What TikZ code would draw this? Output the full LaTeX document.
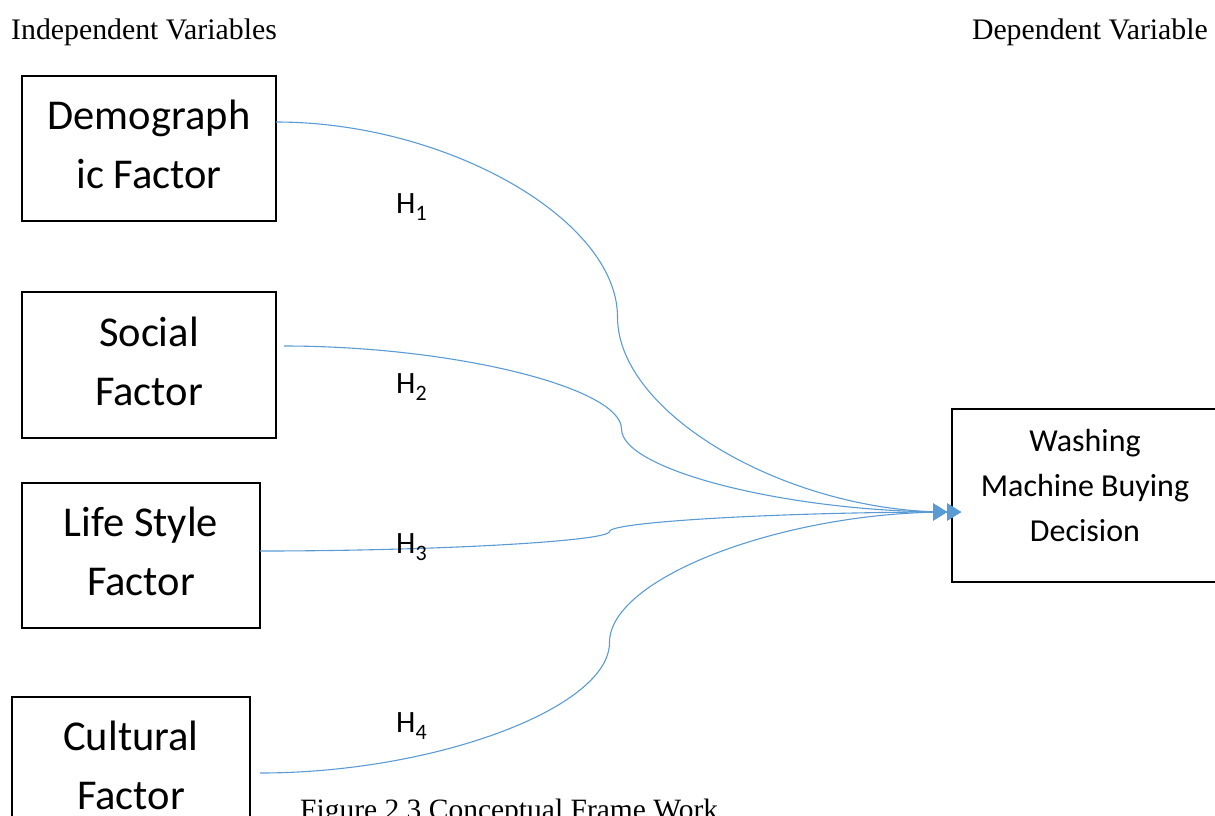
\documentclass[tikz,border=0pt]{standalone}
\usepackage{fontspec}
\setmainfont{Liberation Serif}
\newfontfamily\calib{Carlito}
\usetikzlibrary{arrows.meta}
\definecolor{lineblue}{HTML}{5B9BD5}
\tikzset{
  varbox/.style={draw=black, line width=1.6pt, rectangle, inner sep=0pt},
  boxtext/.style={align=center, font=\calib\fontsize{42.5}{59}\selectfont, inner sep=0pt},
  dvtext/.style={align=center, font=\calib\fontsize{32}{45}\selectfont, inner sep=0pt},
  hlabel/.style={font=\calib\fontsize{31}{36}\selectfont, anchor=base west, inner sep=0pt},
  headtext/.style={font=\fontsize{29.8}{34}\selectfont, anchor=base west, inner sep=0pt},
  captext/.style={font=\fontsize{29.5}{34}\selectfont, anchor=base west, inner sep=0pt},
  conn/.style={draw=lineblue, line width=1.1pt,
    -{Triangle[length=14pt,width=17pt,fill=lineblue]Triangle[length=14pt,width=17pt,fill=lineblue,sep=-6pt]}}
}
\begin{document}
\begin{tikzpicture}[x=1pt,y=-1pt]
\useasboundingbox (0,0) rectangle (1215,815);
% headings
\node[headtext] (indep) at (11,39) {Independent Variables};
\node[headtext, anchor=base east] (dep) at (1208,39) {Dependent Variable};
% boxes
\node[varbox, minimum width=254pt, minimum height=145pt] (dem) at (149,148.5) {};
\node[boxtext] (demT) at (149,144.5) {Demograph\\ic Factor};
\node[varbox, minimum width=254pt, minimum height=146pt] (soc) at (149,365) {};
\node[boxtext] (socT) at (149,361) {Social\\Factor};
\node[varbox, minimum width=238pt, minimum height=145pt] (life) at (141,555.5) {};
\node[boxtext] (lifeT) at (141,551) {Life Style\\Factor};
\node[varbox, minimum width=238pt, minimum height=145pt] (cult) at (131,769.5) {};
\node[boxtext] (cultT) at (131,765) {Cultural\\Factor};
\node[varbox, minimum width=278pt, minimum height=173pt] (dv) at (1091,495.5) {};
\node[dvtext] (dvT) at (1085,485) {Washing\\Machine Buying\\Decision};
% connector end points
\coordinate (s1) at (276,122);
\coordinate (s2) at (284,346);
\coordinate (s3) at (260,551);
\coordinate (s4) at (260,773);
\coordinate (tip) at (955,512);
% connectors
\draw[conn] (s1) .. controls (446.75,122) and (617.5,219.5) .. (617.5,317)
  .. controls (617.5,414.5) and (788.25,512) .. (tip);
\draw[conn] (s2) .. controls (452.75,346) and (621.5,387.5) .. (621.5,429)
  .. controls (621.5,470.5) and (790.25,512) .. (tip);
\draw[conn] (s3) .. controls (434.75,551) and (609.5,541.25) .. (609.5,531.5)
  .. controls (609.5,521.75) and (784.25,512) .. (tip);
\draw[conn] (s4) .. controls (434.75,773) and (609.5,707.75) .. (609.5,642.5)
  .. controls (609.5,577.25) and (784.25,512) .. (tip);
% hypothesis labels
\node[hlabel] (h1) at (396,213) {H\raisebox{-7pt}{\fontsize{22}{22}\selectfont 1}};
\node[hlabel] (h2) at (396,393) {H\raisebox{-7pt}{\fontsize{22}{22}\selectfont 2}};
\node[hlabel] (h3) at (396,553) {H\raisebox{-7pt}{\fontsize{22}{22}\selectfont 3}};
\node[hlabel] (h4) at (396,732) {H\raisebox{-7pt}{\fontsize{22}{22}\selectfont 4}};
% caption
\node[captext] (cap) at (300,819) {Figure 2.3 Conceptual Frame Work};
\end{tikzpicture}
\end{document}
